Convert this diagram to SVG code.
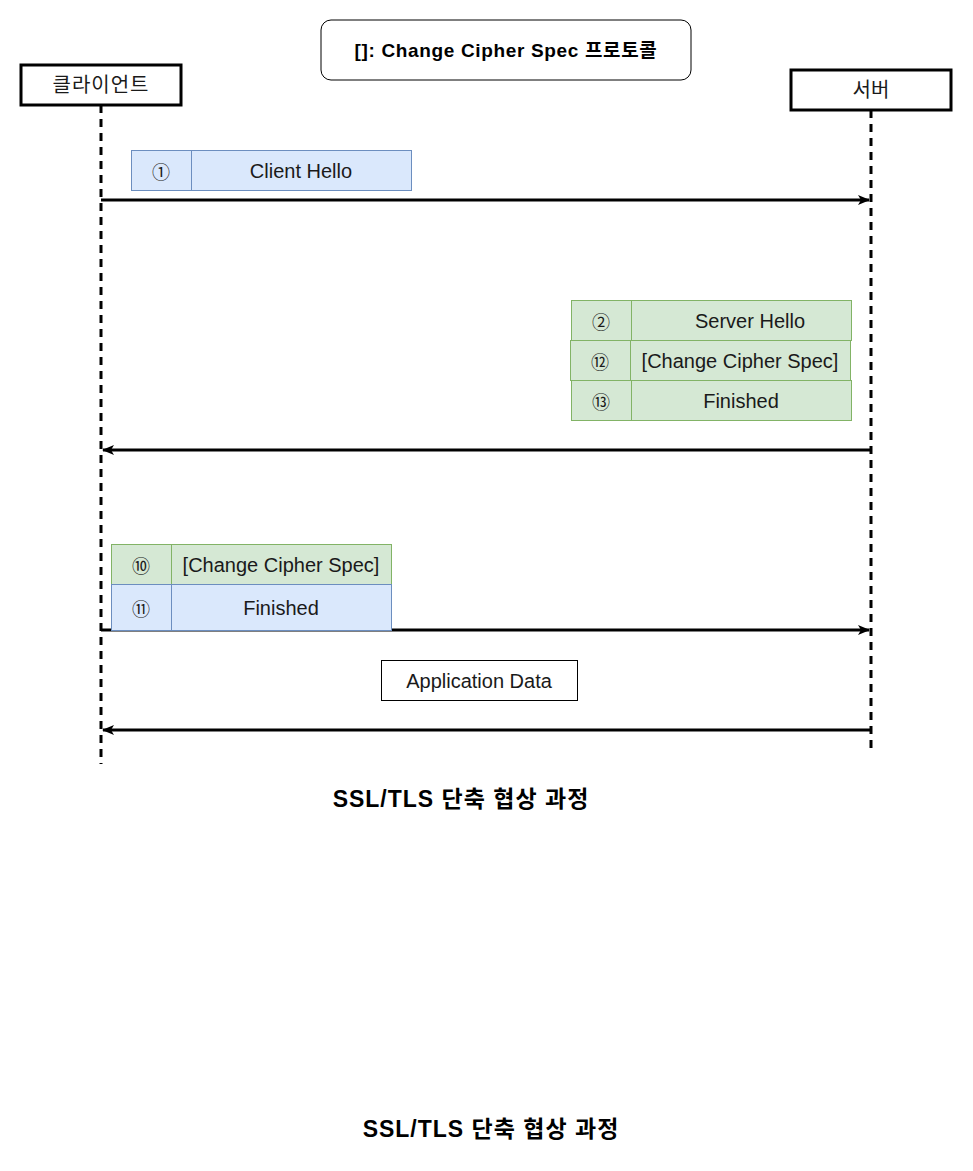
<svg xmlns="http://www.w3.org/2000/svg" width="973" height="1171" viewBox="0 0 973 1171">
<style>
text{font-family:"Liberation Sans","Noto Sans CJK KR",sans-serif;fill:#1a1a1a;text-anchor:middle;dominant-baseline:central}
.actor{fill:#fff;stroke:#000;stroke-width:3}
.life{stroke:#000;stroke-width:3;stroke-dasharray:8 6;fill:none}
.blue{fill:#dae8fc;stroke:#6c8ebf;stroke-width:1}
.green{fill:#d5e8d4;stroke:#82b366;stroke-width:1}
.msg{font-size:20px}
.num{font-size:18px;font-family:"Noto Sans CJK KR","DejaVu Sans",sans-serif}
.arrow{stroke:#000;stroke-width:3;fill:none}
.title{font-size:23px;font-weight:bold;fill:#000;letter-spacing:1px}
</style>
<defs>
<marker id="ah" viewBox="0 0 12 10" refX="11" refY="5" markerWidth="12" markerHeight="10" markerUnits="userSpaceOnUse" orient="auto">
<path d="M0,0 L12,5 L0,10 L3,5 Z" fill="#000"/>
</marker>
</defs>
<g id="legend">
<rect x="321" y="20" width="370" height="60" rx="10" fill="#fff" stroke="#000" stroke-width="1"/>
<text x="506" y="50" style="font-size:19px;font-weight:bold;fill:#000;letter-spacing:0.65px">[]: Change Cipher Spec 프로토콜</text>
</g>
<g id="client">
<rect class="actor" x="21" y="65" width="160" height="40"/>
<text x="101" y="85" style="font-size:20px;letter-spacing:1px">클라이언트</text>
<line class="life" x1="101" y1="105" x2="101" y2="764"/>
</g>
<g id="server">
<rect class="actor" x="791" y="70" width="160" height="40"/>
<text x="871" y="90" style="font-size:20px">서버</text>
<line class="life" x1="871" y1="110" x2="871" y2="750"/>
</g>
<g id="connectors">
<line class="arrow" x1="101" y1="200" x2="869" y2="200" marker-end="url(#ah)"/>
<line class="arrow" x1="871" y1="450" x2="103" y2="450" marker-end="url(#ah)"/>
<line class="arrow" x1="101" y1="630" x2="869" y2="630" marker-end="url(#ah)"/>
<line class="arrow" x1="871" y1="730" x2="103" y2="730" marker-end="url(#ah)"/>
</g>
<g id="msg-client-hello">
<rect class="blue" x="131.5" y="150.5" width="280" height="40"/>
<line x1="191.5" y1="150.5" x2="191.5" y2="190.5" stroke="#6c8ebf"/>
<text class="num" x="161" y="171">①</text>
<text class="msg" x="301" y="171">Client Hello</text>
</g>
<g id="msg-server-hello">
<rect class="green" x="571.5" y="300.5" width="280" height="40"/>
<line x1="631.5" y1="300.5" x2="631.5" y2="340.5" stroke="#82b366"/>
<text class="num" x="601" y="321">②</text>
<text class="msg" x="750" y="321">Server Hello</text>
</g>
<g id="msg-server-ccs">
<rect class="green" x="570.5" y="340.5" width="280" height="40"/>
<line x1="630.5" y1="340.5" x2="630.5" y2="380.5" stroke="#82b366"/>
<text class="num" x="600" y="361">⑫</text>
<text class="msg" x="740" y="361">[Change Cipher Spec]</text>
</g>
<g id="msg-server-finished">
<rect class="green" x="571.5" y="380.5" width="280" height="40"/>
<line x1="631.5" y1="380.5" x2="631.5" y2="420.5" stroke="#82b366"/>
<text class="num" x="601" y="401">⑬</text>
<text class="msg" x="741" y="401">Finished</text>
</g>
<g id="msg-client-ccs">
<rect class="green" x="111.5" y="544.5" width="280" height="40"/>
<line x1="171.5" y1="544.5" x2="171.5" y2="584.5" stroke="#82b366"/>
<text class="num" x="141" y="565">⑩</text>
<text class="msg" x="281" y="565">[Change Cipher Spec]</text>
</g>
<g id="msg-client-finished">
<rect class="blue" x="111.5" y="584.5" width="280" height="46"/>
<line x1="171.5" y1="584.5" x2="171.5" y2="630.5" stroke="#6c8ebf"/>
<text class="num" x="141" y="608">⑪</text>
<text class="msg" x="281" y="608">Finished</text>
</g>
<g id="msg-app-data">
<rect x="381.5" y="660.5" width="196" height="40" fill="#fff" stroke="#000" stroke-width="1"/>
<text class="msg" x="479" y="681">Application Data</text>
</g>
<g id="caption1">
<text class="title" x="461" y="799">SSL/TLS 단축 협상 과정</text>
</g>
<g id="caption2">
<text class="title" x="491" y="1129">SSL/TLS 단축 협상 과정</text>
</g>
</svg>
